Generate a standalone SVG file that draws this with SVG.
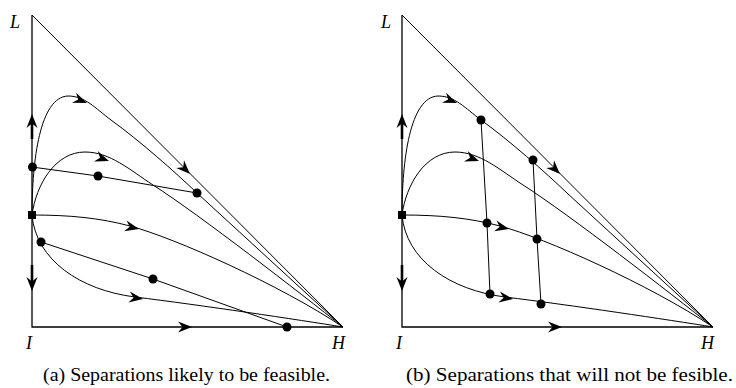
<svg xmlns="http://www.w3.org/2000/svg" xmlns:xlink="http://www.w3.org/1999/xlink" width="736" height="388" viewBox="0 0 736 388">
<style>
.ln{fill:none;stroke:#000;stroke-width:1}
.ax{fill:none;stroke:#000;stroke-width:1.3}
.thick{fill:none;stroke:#000;stroke-width:2.6}
.dot{fill:#000}
.lbl{font-family:"Liberation Serif","Times New Roman",serif;font-style:italic;font-size:18px;fill:#000}
.cap{font-family:"Liberation Serif","Times New Roman",serif;font-size:19px;fill:#000}
</style>
<defs>
<path id="ah" d="M0,0 L-14,-5.5 L-9.5,0 L-14,5.5 Z" fill="#000"/>
<g id="panel">
<g id="frame">
<path class="ax" d="M32,15 L32,327 L343,327"/>
<path class="ln" d="M32,15 L343,327"/>
</g>
<g id="curves">
<path class="ln" d="M32,215 C32,160 40,97 68,96 C85,96 95,108 111,120 C140,141 175,172 197,193 L343,327"/>
<path class="ln" d="M32,215 C36,185 55,152 85,152 C110,152 130,170 153,185 C200,215 300,293 343,327"/>
<path class="ln" d="M32,215 C70,215 100,218 130,226 C175,238 280,285 343,327"/>
<path class="ln" d="M32,215 C36,260 80,290 135,297 C200,305 300,320 343,327"/>
</g>
<g id="arrows">
<use xlink:href="#ah" transform="translate(87,103) rotate(22)"/>
<use xlink:href="#ah" transform="translate(109,161) rotate(20)"/>
<use xlink:href="#ah" transform="translate(139,229) rotate(13)"/>
<use xlink:href="#ah" transform="translate(143,299) rotate(8)"/>
<use xlink:href="#ah" transform="translate(192,327)"/>
<use xlink:href="#ah" transform="translate(190,174) rotate(45)"/>
<path class="thick" d="M32,139 L32,122"/>
<use xlink:href="#ah" transform="translate(32,114) rotate(-90)"/>
<path class="thick" d="M32,265 L32,283"/>
<use xlink:href="#ah" transform="translate(32,291) rotate(90)"/>
</g>
<rect x="28" y="211" width="8" height="8" fill="#000"/>
</g>
</defs>

<g id="panel-a">
<use xlink:href="#panel"/>
<g id="separations-a">
<path class="ln" d="M32,167 L98,176 L197,193"/>
<path class="ln" d="M41,242 L153,279 L287,327"/>
</g>
<g id="nodes-a">
<circle class="dot" cx="32.5" cy="167" r="4.5"/>
<circle class="dot" cx="98" cy="176" r="4.5"/>
<circle class="dot" cx="197" cy="193" r="4.5"/>
<circle class="dot" cx="41" cy="242" r="4.5"/>
<circle class="dot" cx="153" cy="279" r="4.5"/>
<circle class="dot" cx="287" cy="327" r="4.5"/>
</g>
<text class="lbl" x="10" y="28">L</text>
<text class="lbl" x="26" y="349">I</text>
<text class="lbl" x="332" y="349">H</text>
<text class="cap" x="43" y="381" textLength="287" lengthAdjust="spacingAndGlyphs">(a) Separations likely to be feasible.</text>
</g>

<g id="panel-b">
<use xlink:href="#panel" transform="translate(370,0)"/>
<g id="separations-b">
<path class="ln" d="M481,120 L487,223 L490,294"/>
<path class="ln" d="M533,160 L537,239 L541,304"/>
</g>
<g id="nodes-b">
<circle class="dot" cx="481" cy="120" r="4.5"/>
<circle class="dot" cx="487" cy="223" r="4.5"/>
<circle class="dot" cx="490" cy="294" r="4.5"/>
<circle class="dot" cx="533" cy="160" r="4.5"/>
<circle class="dot" cx="537" cy="239" r="4.5"/>
<circle class="dot" cx="541" cy="304" r="4.5"/>
</g>
<text class="lbl" x="381" y="28">L</text>
<text class="lbl" x="396" y="349">I</text>
<text class="lbl" x="701" y="349">H</text>
<text class="cap" x="406" y="381" textLength="327" lengthAdjust="spacingAndGlyphs">(b) Separations that will not be fesible.</text>
</g>
</svg>
